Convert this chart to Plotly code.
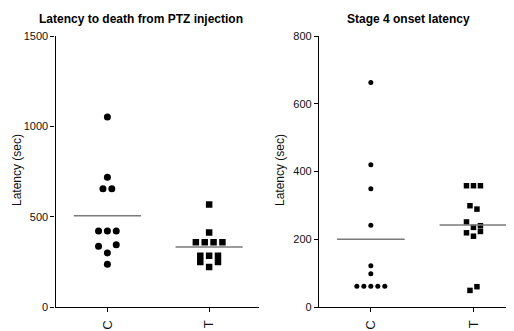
import numpy as np
import plotly.graph_objects as go

# ---------------- data ----------------
categories = ["C", "T"]

death_C = [1051, 718, 655, 655, 420, 420, 420, 336, 299, 345, 236]
death_T = [568, 412, 358, 358, 358, 358, 284, 284, 284, 249, 221, 249]

stage4_C = [663, 420, 349, 241, 122, 98, 61, 61, 61, 61, 61]
stage4_T = [358, 358, 358, 299, 289, 251, 235, 240, 219, 209, 223, 49, 60]

titles = ["Latency to death from PTZ injection", "Stage 4 onset latency"]
y_title = "Latency (sec)"
y_ticks_left = [0, 500, 1000, 1500]
y_ticks_right = [0, 200, 400, 600, 800]

FONT = "Liberation Sans, Arial, Helvetica, sans-serif"

# page body has an 8px margin; figure fills the rest of the 514x331 window
OFF = 8
W, H = 514 - OFF, 331 - OFF


def px_x(p):
    return (p - OFF) / W


def px_y(p):
    return 1 - (p - OFF) / H


def swarm_offsets(values, tol, step):
    """Group nearly equal values into rows and spread each row symmetrically."""
    vals = np.asarray(values, dtype=float)
    order = np.argsort(vals, kind="stable")
    cluster = np.zeros(len(vals), dtype=int)
    cid, start = -1, None
    for idx in order:
        if start is None or vals[idx] - start >= tol:
            cid += 1
            start = vals[idx]
        cluster[idx] = cid
    offs = np.zeros(len(vals))
    for c in range(cid + 1):
        members = [i for i in range(len(vals)) if cluster[i] == c]
        n = len(members)
        for k, i in enumerate(members):
            offs[i] = (k - (n - 1) / 2) * step
    return offs


fig = go.Figure()

panels = [
    dict(data=[death_C, death_T], xa="x", ya="y", tol=50, step=0.087,
         sizes=[7, 6.5]),
    dict(data=[stage4_C, stage4_T], xa="x2", ya="y2", tol=19, step=0.068,
         sizes=[5, 5.5]),
]

symbols = ["circle", "square"]
for p in panels:
    for ci, vals in enumerate(p["data"]):
        offs = swarm_offsets(vals, p["tol"], p["step"])
        fig.add_trace(go.Scatter(
            x=ci + offs, y=vals, mode="markers", xaxis=p["xa"], yaxis=p["ya"],
            marker=dict(symbol=symbols[ci], size=p["sizes"][ci], color="black",
                        line=dict(width=0)),
            showlegend=False, hoverinfo="y"))
        m = float(np.mean(vals))
        fig.add_trace(go.Scatter(
            x=[ci - 0.33, ci + 0.33], y=[m, m], mode="lines",
            xaxis=p["xa"], yaxis=p["ya"],
            line=dict(color="#7a7a7a", width=1.6),
            showlegend=False, hoverinfo="skip"))

ax_common = dict(showgrid=False, zeroline=False, showline=True,
                 automargin=False,
                 linecolor="black", linewidth=1.3, ticks="outside",
                 ticklen=4, tickwidth=1.2, tickcolor="black")
yfont = dict(family=FONT, size=11, color="#111")
xfont = dict(family=FONT, size=13, color="#111")

bottom = px_y(307)
top = px_y(36)

fig.update_layout(
    template="none",
    width=W, height=H,
    autosize=False,
    margin=dict(l=0, r=0, t=0, b=0, pad=0),
    paper_bgcolor="white", plot_bgcolor="white",
    xaxis=dict(domain=[px_x(55.5), px_x(259)], range=[-0.51, 1.49],
               tickvals=[0, 1], ticktext=categories, tickangle=-90,
               ticklabelstandoff=3,
               tickfont=xfont, anchor="y", **ax_common),
    yaxis=dict(domain=[bottom, top], range=[0, 1500], tickvals=y_ticks_left,
               tickfont=yfont, anchor="x", **ax_common),
    xaxis2=dict(domain=[px_x(319), 1.0], range=[-0.505, 1.395],
                tickvals=[0, 1], ticktext=categories, tickangle=-90,
                ticklabelstandoff=3,
                tickfont=xfont, anchor="y2", **ax_common),
    yaxis2=dict(domain=[bottom, top], range=[0, 800], tickvals=y_ticks_right,
                tickfont=yfont, anchor="x2", **ax_common),
    annotations=[
        dict(text="<b>" + titles[0] + "</b>", x=px_x(141), y=px_y(19),
             xref="paper", yref="paper", showarrow=False,
             xanchor="center", yanchor="middle",
             font=dict(family=FONT, size=12, color="black")),
        dict(text="<b>" + titles[1] + "</b>", x=px_x(408), y=px_y(19),
             xref="paper", yref="paper", showarrow=False,
             xanchor="center", yanchor="middle",
             font=dict(family=FONT, size=12, color="black")),
        dict(text=y_title, x=px_x(17), y=px_y(170), textangle=-90,
             xref="paper", yref="paper", showarrow=False,
             xanchor="center", yanchor="middle",
             font=dict(family=FONT, size=12, color="#111")),
        dict(text=y_title, x=px_x(280), y=px_y(170), textangle=-90,
             xref="paper", yref="paper", showarrow=False,
             xanchor="center", yanchor="middle",
             font=dict(family=FONT, size=12, color="#111")),
    ],
)

fig.write_html("out.html")
